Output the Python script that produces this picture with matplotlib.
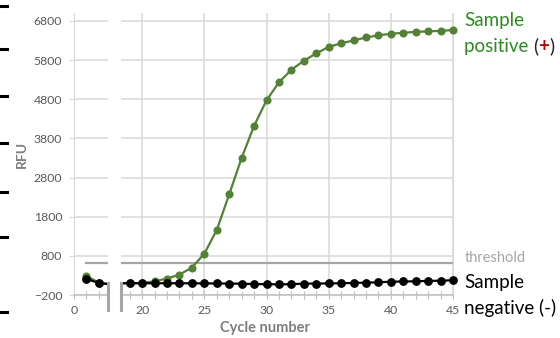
import matplotlib.pyplot as plt
from matplotlib.lines import Line2D
from matplotlib.ticker import MultipleLocator

plt.rcParams['font.family'] = ['Lato', 'DejaVu Sans']

# qPCR amplification curves (cycles 4-17 are hidden by the axis break)
cycles = [1, 2, 3] + list(range(18, 46))
positive = [290, 110, 80,
            95, 100, 105, 150, 220, 320, 500, 855, 1460, 2370, 3300, 4120,
            4770, 5230, 5550, 5780, 5970, 6135, 6225, 6300, 6375, 6430,
            6470, 6495, 6520, 6530, 6545, 6565]
negative = [210, 105, 70,
            100, 100, 100, 100, 100, 100, 98, 97, 95, 92, 88, 80,
            75, 72, 76, 90, 92, 95, 100, 108, 115, 125,
            140, 145, 150, 160, 165, 177]
threshold = 620
y_ticks = [-200, 800, 1800, 2800, 3800, 4800, 5800, 6800]
left_ticks = [0]
right_ticks = [20, 25, 30, 35, 40, 45]

green = '#538135'
grid_c = '#d9d9d9'
axis_c = '#bfbfbf'
label_c = '#595959'

fig = plt.figure(figsize=(5.6, 3.38), dpi=100)
ax_l = fig.add_axes([0.1321, 0.1272, 0.0602, 0.8343])
ax_r = fig.add_axes([0.2161, 0.1272, 0.5929, 0.8343])

limits = {ax_l: (0, 2.7), ax_r: (18.3, 45)}

for ax in (ax_l, ax_r):
    lo, hi = limits[ax]
    ax.set_xlim(lo, hi)
    ax.set_ylim(-200, 7000)
    ax.set_yticks(y_ticks)
    ax.grid(axis='y', color=grid_c, lw=1.1, zorder=0)
    ax.xaxis.set_minor_locator(MultipleLocator(1))
    ax.tick_params(axis='x', which='both', direction='inout', length=6,
                   color=axis_c, width=0.8, labelsize=8.8, labelcolor=label_c, pad=4)
    ax.tick_params(axis='y', direction='out', length=3.5, color=grid_c,
                   labelsize=8.8, labelcolor=label_c, pad=5)
    ax.spines['top'].set_visible(False)
    ax.spines['bottom'].set_color(axis_c)
    ax.spines['bottom'].set_linewidth(1.1)

    # threshold line
    ax.hlines(threshold, max(lo, cycles[0] - 0.1), hi, color='#a6a6a6', lw=1.6, zorder=2)

    # lines get clipped to each panel, markers are kept whole
    ax.plot(cycles, positive, color=green, lw=1.6, zorder=3)
    ax.plot(cycles, negative, color='black', lw=1.6, zorder=4)
    inside = [i for i, c in enumerate(cycles) if lo <= c <= hi]
    ax.plot([cycles[i] for i in inside], [positive[i] for i in inside], 'o',
            color=green, ms=4.8, zorder=3, clip_on=False)
    ax.plot([cycles[i] for i in inside], [negative[i] for i in inside], 'o',
            color='black', ms=5.3, zorder=4, clip_on=False)

ax_l.set_xticks(left_ticks)
ax_l.spines['right'].set_visible(False)
ax_l.spines['left'].set_color(grid_c)
ax_l.set_ylabel('RFU', fontsize=10, fontweight='bold', color='#7f7f7f', labelpad=4)

ax_r.set_xticks(right_ticks)
ax_r.grid(axis='x', color=grid_c, lw=1.1, zorder=0)
ax_r.spines['left'].set_visible(False)
ax_r.spines['right'].set_color(grid_c)
ax_r.tick_params(axis='y', left=False, labelleft=False)

# axis break marks
for ax, xb in ((ax_l, 1.0), (ax_r, 0.0)):
    ax.add_line(Line2D([xb, xb], [-0.052, 0.043], transform=ax.transAxes,
                       color='#a6a6a6', lw=2.2, clip_on=False, zorder=5))

fig.text(0.473, 0.03, 'Cycle number', ha='center', va='center',
         fontsize=10.5, fontweight='bold', color='#7f7f7f')

# right-hand labels
fig.text(0.829, 0.237, 'threshold', ha='left', va='center', fontsize=10.5, color='#a6a6a6')
fig.text(0.829, 0.163, 'Sample', ha='left', va='center', fontsize=13.5, color='black')
fig.text(0.829, 0.090, 'negative (-)', ha='left', va='center', fontsize=13.5, color='black')

text_green = '#2e8b22'
fig.text(0.829, 0.940, 'Sample', ha='left', va='center', fontsize=13.5, color=text_green)
t1 = fig.text(0.829, 0.863, 'positive ', ha='left', va='center', fontsize=13.5, color=text_green)
a1 = plt.annotate('(', xy=(1, 0), xycoords=t1, ha='left', va='bottom',
                  fontsize=13.5, color='#222222', annotation_clip=False)
a2 = plt.annotate('+', xy=(1, 0), xycoords=a1, ha='left', va='bottom',
                  fontsize=13.5, fontweight='bold', color='#c00000', annotation_clip=False)
plt.annotate(')', xy=(1, 0), xycoords=a2, ha='left', va='bottom',
             fontsize=13.5, color='#222222', annotation_clip=False)

# small black marks along the left edge of the picture
for yp in [6, 49, 96, 143, 192, 237, 312]:
    fig.add_artist(Line2D([0, 7 / 560], [1 - yp / 338] * 2, color='black', lw=2.2))

plt.savefig('out.png', dpi=100)
